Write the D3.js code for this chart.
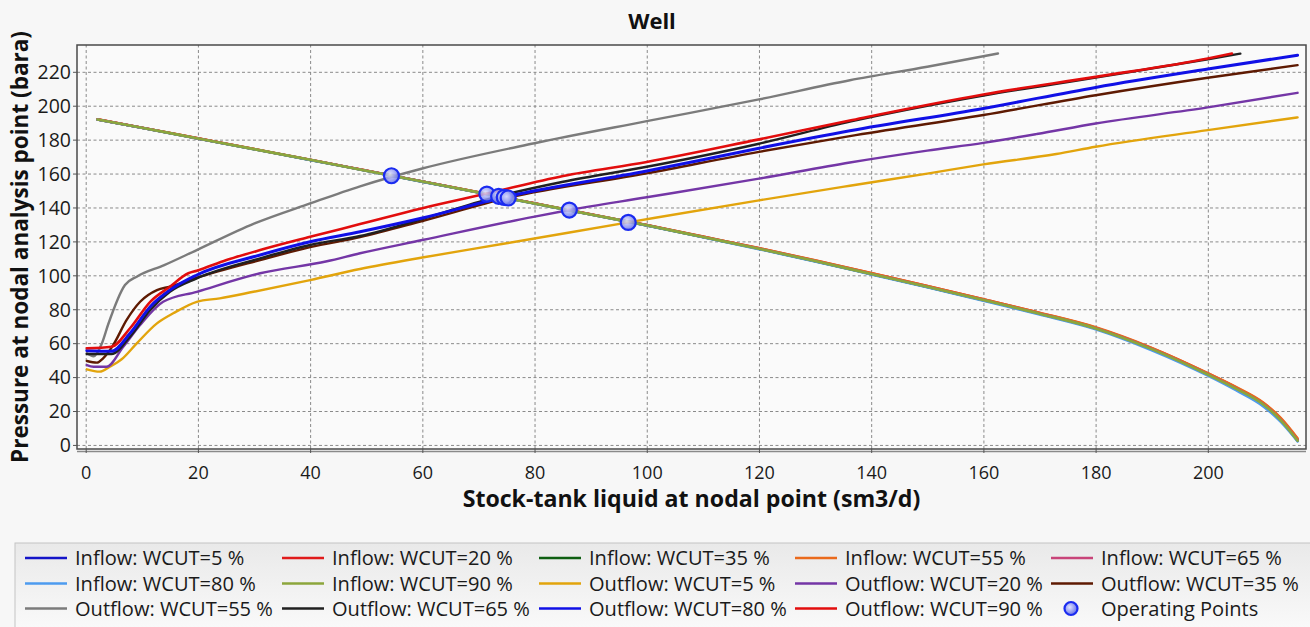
<!DOCTYPE html>
<html><head><meta charset="utf-8">
<script src="https://cdn.jsdelivr.net/npm/d3@7"></script>
<style>
html,body{margin:0;padding:0;background:#f7f7f7;overflow:hidden;}
svg{display:block;font-family:"Open Sans",sans-serif;}
</style></head><body>
<svg id="chart" width="1310" height="627"></svg>
<script>
// ---------------- DATA ----------------
const chartTitle = "Well";
const xAxisTitle = "Stock-tank liquid at nodal point (sm3/d)";
const yAxisTitle = "Pressure at nodal analysis point (bara)";
const xTickValues = [0, 20, 40, 60, 80, 100, 120, 140, 160, 180, 200];
const yTickValues = [0, 20, 40, 60, 80, 100, 120, 140, 160, 180, 200, 220];

// Inflow (IPR) curves: shared rate grid
const inflowRate = [2.1, 10, 20, 30, 40, 50, 60, 70, 80, 90, 100, 110, 120, 130, 140, 150, 160, 170, 180, 190, 200, 205, 210, 213, 216];
const inflowWcut5  = [191.9,187.0,180.7,174.4,168.1,161.7,155.3,148.9,142.4,135.9,129.5,122.6,115.7,108.4,100.8,93.2,85.4,77.4,68.7,56.5,41.5,33.2,23.5,14.5,2.5];
const inflowWcut20 = [192.0,187.1,180.8,174.5,168.2,161.8,155.4,149.0,142.5,136.0,129.7,122.9,116.0,108.8,101.3,93.7,85.9,77.9,69.2,57.1,42.2,34.0,24.4,15.6,3.5];
const inflowWcut35 = [191.8,186.9,180.6,174.3,168.0,161.6,155.2,148.8,142.3,135.8,129.4,122.5,115.6,108.3,100.7,93.1,85.3,77.3,68.6,56.4,41.4,33.1,23.4,14.4,2.4];
const inflowWcut55 = [192.0,187.1,180.8,174.5,168.2,161.8,155.4,149.0,142.5,136.0,129.7,122.9,116.1,108.9,101.4,93.8,86.0,78.0,69.4,57.3,42.4,34.3,24.8,16.0,4.0];
const inflowWcut65 = [191.9,187.0,180.7,174.4,168.1,161.7,155.3,148.9,142.4,135.9,129.5,122.7,115.8,108.5,100.9,93.3,85.5,77.5,68.8,56.7,41.7,33.4,23.8,14.8,2.8];
const inflowWcut80 = [191.8,186.9,180.6,174.3,168.0,161.6,155.2,148.8,142.3,135.8,129.4,122.4,115.4,108.1,100.5,92.9,85.0,76.9,68.2,55.8,40.8,32.2,22.4,13.5,2.0];
const inflowWcut90 = [191.9,187.0,180.7,174.4,168.1,161.7,155.3,148.9,142.4,135.9,129.5,122.6,115.7,108.4,100.8,93.2,85.4,77.4,68.7,56.5,41.5,33.2,23.5,14.5,2.5];

// Outflow (VLP) curves
const outflow5Rate = [0.2, 2.5, 4.3, 6.4, 9.1, 12.7, 15.6, 19.8, 23.9, 29.9, 40, 48.9, 60, 75, 96.7, 120, 136.2, 150, 160, 173, 180, 200, 216];
const outflow5Pressure = [44.6, 43.2, 46.1, 50.5, 59.9, 71.7, 77.6, 84.4, 86.4, 90.3, 97.2, 103.7, 110.5, 118.9, 131.2, 144.2, 152.8, 160.0, 165.4, 171.5, 175.8, 185.6, 193.1];

const outflow20Rate = [0.2, 1.4, 3.7, 6.7, 9.7, 13.8, 19.8, 31.1, 43, 48.9, 60, 79.8, 86.2, 100, 120, 136.2, 150, 160, 169.5, 180, 200, 216];
const outflow20Pressure = [47.1, 46.1, 46.1, 57.9, 70.7, 84.4, 90.3, 101.2, 108.3, 113.0, 120.8, 134.5, 138.5, 146.0, 157.0, 166.5, 173.5, 178.1, 183.3, 189.5, 199.0, 207.6];

const outflow35Rate = [0.2, 2.0, 3.1, 4.9, 7.3, 9.7, 12.7, 15.0, 19.8, 31.1, 40, 48.9, 60, 75, 100, 120, 136.2, 160, 180, 200, 216];
const outflow35Pressure = [49.5, 48.5, 51.1, 58.9, 73.7, 84.4, 91.3, 93.3, 98.6, 109.0, 116.6, 122.5, 132.0, 145.5, 160.1, 172.8, 182.1, 194.5, 206.2, 216.5, 223.9];

const outflow55Rate = [0.2, 1.4, 2.9, 4.0, 7.0, 9.1, 14, 19.8, 30, 40, 48.9, 60, 80, 100, 120, 136.2, 150, 162.6];
const outflow55Pressure = [54.0, 52.3, 60.0, 71.0, 94.3, 99.2, 106.0, 114.9, 130.5, 142.4, 152.5, 163.0, 177.9, 190.9, 203.7, 215.0, 223.0, 230.8];

const outflow65Rate = [0.2, 4.6, 7.9, 11.5, 15.0, 19.8, 31.1, 40, 48.9, 60, 73.5, 85.1, 100, 120, 136.2, 160, 180, 200, 205.8];
const outflow65Pressure = [53.6, 53.6, 63.8, 79.6, 90.3, 98.2, 110.0, 117.9, 123.2, 133.2, 146.6, 155.2, 164.0, 177.6, 190.6, 206.0, 216.6, 227.4, 230.7];

const outflow80Rate = [0.2, 4.6, 7.9, 11.5, 15.0, 19.8, 31.1, 40, 48.9, 60, 74.5, 100, 119.8, 136.2, 160, 180, 200, 216];
const outflow80Pressure = [55.6, 55.2, 65.8, 81.5, 91.3, 100.2, 112.0, 119.8, 125.7, 133.8, 146.0, 161.5, 174.8, 185.2, 198.4, 210.8, 221.6, 229.8];

const outflow90Rate = [0.2, 4.6, 7.9, 11.5, 15.0, 18.3, 19.8, 25.1, 31.1, 40, 48.9, 60, 71.5, 85.1, 100, 119.8, 136.2, 160, 180, 200, 204.3];
const outflow90Pressure = [57.0, 57.9, 68.8, 84.4, 93.3, 101.2, 102.7, 109.0, 114.9, 122.7, 130.2, 139.6, 148.2, 158.6, 166.8, 180.0, 191.3, 206.6, 217.0, 227.8, 230.8];

// Operating points
const operatingRate = [54.5, 71.5, 73.6, 74.6, 75.3, 86.2, 96.7];
const operatingPressure = [158.7, 147.9, 146.6, 146.0, 145.6, 138.5, 131.2];

const seriesNames = [
  "Inflow: WCUT=5 %", "Inflow: WCUT=20 %", "Inflow: WCUT=35 %", "Inflow: WCUT=55 %", "Inflow: WCUT=65 %",
  "Inflow: WCUT=80 %", "Inflow: WCUT=90 %", "Outflow: WCUT=5 %", "Outflow: WCUT=20 %", "Outflow: WCUT=35 %",
  "Outflow: WCUT=55 %", "Outflow: WCUT=65 %", "Outflow: WCUT=80 %", "Outflow: WCUT=90 %"
];
const operatingName = "Operating Points";
const seriesColors = [
  "#1414c8", "#e01b1b", "#0f5f12", "#ea6a1c", "#c84479",
  "#4d9bef", "#8ca63c", "#e2a40c", "#7436a6", "#5e1a02",
  "#7b7b7b", "#202020", "#1010e6", "#e20d0d"
];
const seriesWidths = [2.4,2.4,2.4,2.4,2.4,2.4,2.6,2.4,2.4,2.4,2.4,2.4,3.0,2.6];

// ---------------- BUILD ----------------
const seriesX = [inflowRate, inflowRate, inflowRate, inflowRate, inflowRate, inflowRate, inflowRate,
  outflow5Rate, outflow20Rate, outflow35Rate, outflow55Rate, outflow65Rate, outflow80Rate, outflow90Rate];
const seriesY = [inflowWcut5, inflowWcut20, inflowWcut35, inflowWcut55, inflowWcut65, inflowWcut80, inflowWcut90,
  outflow5Pressure, outflow20Pressure, outflow35Pressure, outflow55Pressure, outflow65Pressure, outflow80Pressure, outflow90Pressure];
const series = seriesNames.map((n, i) => ({
  name: n, color: seriesColors[i], width: seriesWidths[i],
  points: seriesX[i].map((q, j) => [q, seriesY[i][j]])
}));
const opPoints = operatingRate.map((q, i) => [q, operatingPressure[i]]);

const svg = d3.select("#chart");
const P = {left: 77, top: 45, right: 1306, bottom: 449};
const x = d3.scaleLinear().domain([-1.55, 217.5]).range([P.left, P.right]);
const y = d3.scaleLinear().domain([-2.4, 235.8]).range([P.bottom, P.top]);

const defs = svg.append("defs");
defs.append("clipPath").attr("id", "clip").append("rect")
  .attr("x", P.left).attr("y", P.top).attr("width", P.right - P.left).attr("height", P.bottom - P.top);
const rg = defs.append("radialGradient").attr("id", "opGrad").attr("cx", "40%").attr("cy", "40%").attr("r", "65%");
rg.append("stop").attr("offset", "0%").attr("stop-color", "#dfe2ff");
rg.append("stop").attr("offset", "100%").attr("stop-color", "#5f6ae8");
const lg = defs.append("linearGradient").attr("id", "legGrad").attr("x1", 0).attr("y1", 0).attr("x2", 0).attr("y2", 1);
lg.append("stop").attr("offset", "0%").attr("stop-color", "#e9e9e9");
lg.append("stop").attr("offset", "100%").attr("stop-color", "#fcfcfc");

// background
svg.append("rect").attr("width", 1310).attr("height", 627).attr("fill", "#f7f7f7");
svg.append("rect").attr("x", P.left).attr("y", P.top).attr("width", P.right - P.left).attr("height", P.bottom - P.top)
  .attr("fill", "#fafafa");

// grid
const gridX = svg.append("g").attr("transform", `translate(0,${P.bottom})`)
  .call(d3.axisBottom(x).tickValues(xTickValues).tickSize(-(P.bottom - P.top)).tickFormat(""));
const gridY = svg.append("g").attr("transform", `translate(${P.left},0)`)
  .call(d3.axisLeft(y).tickValues(yTickValues).tickSize(-(P.right - P.left)).tickFormat(""));
[gridX, gridY].forEach(g => {
  g.select(".domain").remove();
  g.selectAll("line").attr("stroke", "#8a8a8a").attr("stroke-width", 1).attr("stroke-dasharray", "3,2.5");
});

// lines
const line = d3.line().x(d => x(d[0])).y(d => y(d[1])).curve(d3.curveMonotoneX);
const gLines = svg.append("g").attr("clip-path", "url(#clip)");
gLines.selectAll("path").data(series).join("path")
  .attr("d", d => line(d.points))
  .attr("fill", "none")
  .attr("stroke", d => d.color)
  .attr("stroke-width", d => d.width)
  .attr("stroke-linejoin", "round").attr("stroke-linecap", "round");

// operating points
gLines.selectAll("circle.op").data(opPoints).join("circle").attr("class", "op")
  .attr("cx", d => x(d[0])).attr("cy", d => y(d[1])).attr("r", 7.5)
  .attr("fill", "url(#opGrad)").attr("fill-opacity", 0.85)
  .attr("stroke", "#1a2bf0").attr("stroke-width", 2.2);

// border
svg.append("rect").attr("x", P.left).attr("y", P.top).attr("width", P.right - P.left).attr("height", P.bottom - P.top)
  .attr("fill", "none").attr("stroke", "#4a4a4a").attr("stroke-width", 1.5);
svg.append("line").attr("x1", P.left).attr("x2", P.right).attr("y1", P.bottom + 2.5).attr("y2", P.bottom + 2.5)
  .attr("stroke", "#8a8a8a").attr("stroke-width", 1.3);

// axes
const xAxis = svg.append("g").attr("transform", `translate(0,${P.bottom})`)
  .call(d3.axisBottom(x).tickValues(xTickValues).tickSize(4).tickFormat(d3.format("d")));
const yAxis = svg.append("g").attr("transform", `translate(${P.left},0)`)
  .call(d3.axisLeft(y).tickValues(yTickValues).tickSize(4).tickFormat(d3.format("d")));
[xAxis, yAxis].forEach(g => {
  g.select(".domain").remove();
  g.selectAll("line").attr("stroke", "#555");
  g.selectAll("text").attr("fill", "#1a1a1a").style("font-family", "'Open Sans', sans-serif");
});
xAxis.selectAll("text").attr("y", 24).attr("dy", "0.35em").style("font-size", "18px");
yAxis.selectAll("text").attr("x", -6).attr("dy", "0.35em").style("font-size", "19.5px");

function fitWidth(sel, target, base) {
  sel.style("font-size", base + "px");
  const w = sel.node().getComputedTextLength();
  sel.style("font-size", (base * target / w).toFixed(2) + "px");
}

// titles
svg.append("text").attr("x", 652).attr("y", 29).attr("text-anchor", "middle")
  .style("font-weight", "700").style("font-size", "22px").attr("fill", "#111").text(chartTitle);
const xt = svg.append("text").attr("x", (P.left + P.right) / 2).attr("y", 507).attr("text-anchor", "middle")
  .style("font-weight", "700").attr("fill", "#111").text(xAxisTitle);
fitWidth(xt, 458, 22);
const yt = svg.append("text").attr("transform", `translate(28,${(P.top + P.bottom) / 2}) rotate(-90)`)
  .attr("text-anchor", "middle").style("font-weight", "700").attr("fill", "#111").text(yAxisTitle);
fitWidth(yt, 432, 22);

// legend
const legend = svg.append("g");
legend.append("rect").attr("x", 15).attr("y", 543).attr("width", 1310).attr("height", 100)
  .attr("fill", "url(#legGrad)").attr("stroke", "#c4c4c4").attr("stroke-width", 1);
const colX = [75, 332, 589, 845, 1101];
const rowY = [558, 583.5, 608.5];
const legItems = series.map(s => ({name: s.name, color: s.color, type: "line"}))
  .concat([{name: operatingName, type: "point"}]);
const probe = legend.append("text").text("Outflow: WCUT=55 %");
fitWidth(probe, 198, 18);
const legFont = probe.style("font-size");
probe.remove();
legItems.forEach((it, i) => {
  const cx = colX[i % 5], cy = rowY[Math.floor(i / 5)];
  if (it.type === "line") {
    legend.append("line").attr("x1", cx - 50).attr("x2", cx - 8).attr("y1", cy).attr("y2", cy)
      .attr("stroke", it.color).attr("stroke-width", 2.4);
  } else {
    legend.append("circle").attr("cx", cx - 30).attr("cy", cy).attr("r", 6.5)
      .attr("fill", "url(#opGrad)").attr("stroke", "#1a2bf0").attr("stroke-width", 2.2);
  }
  legend.append("text").attr("x", cx).attr("y", cy).attr("dy", "0.35em")
    .style("font-size", legFont).attr("fill", "#1a1a1a").text(it.name);
});
</script>
</body></html>
